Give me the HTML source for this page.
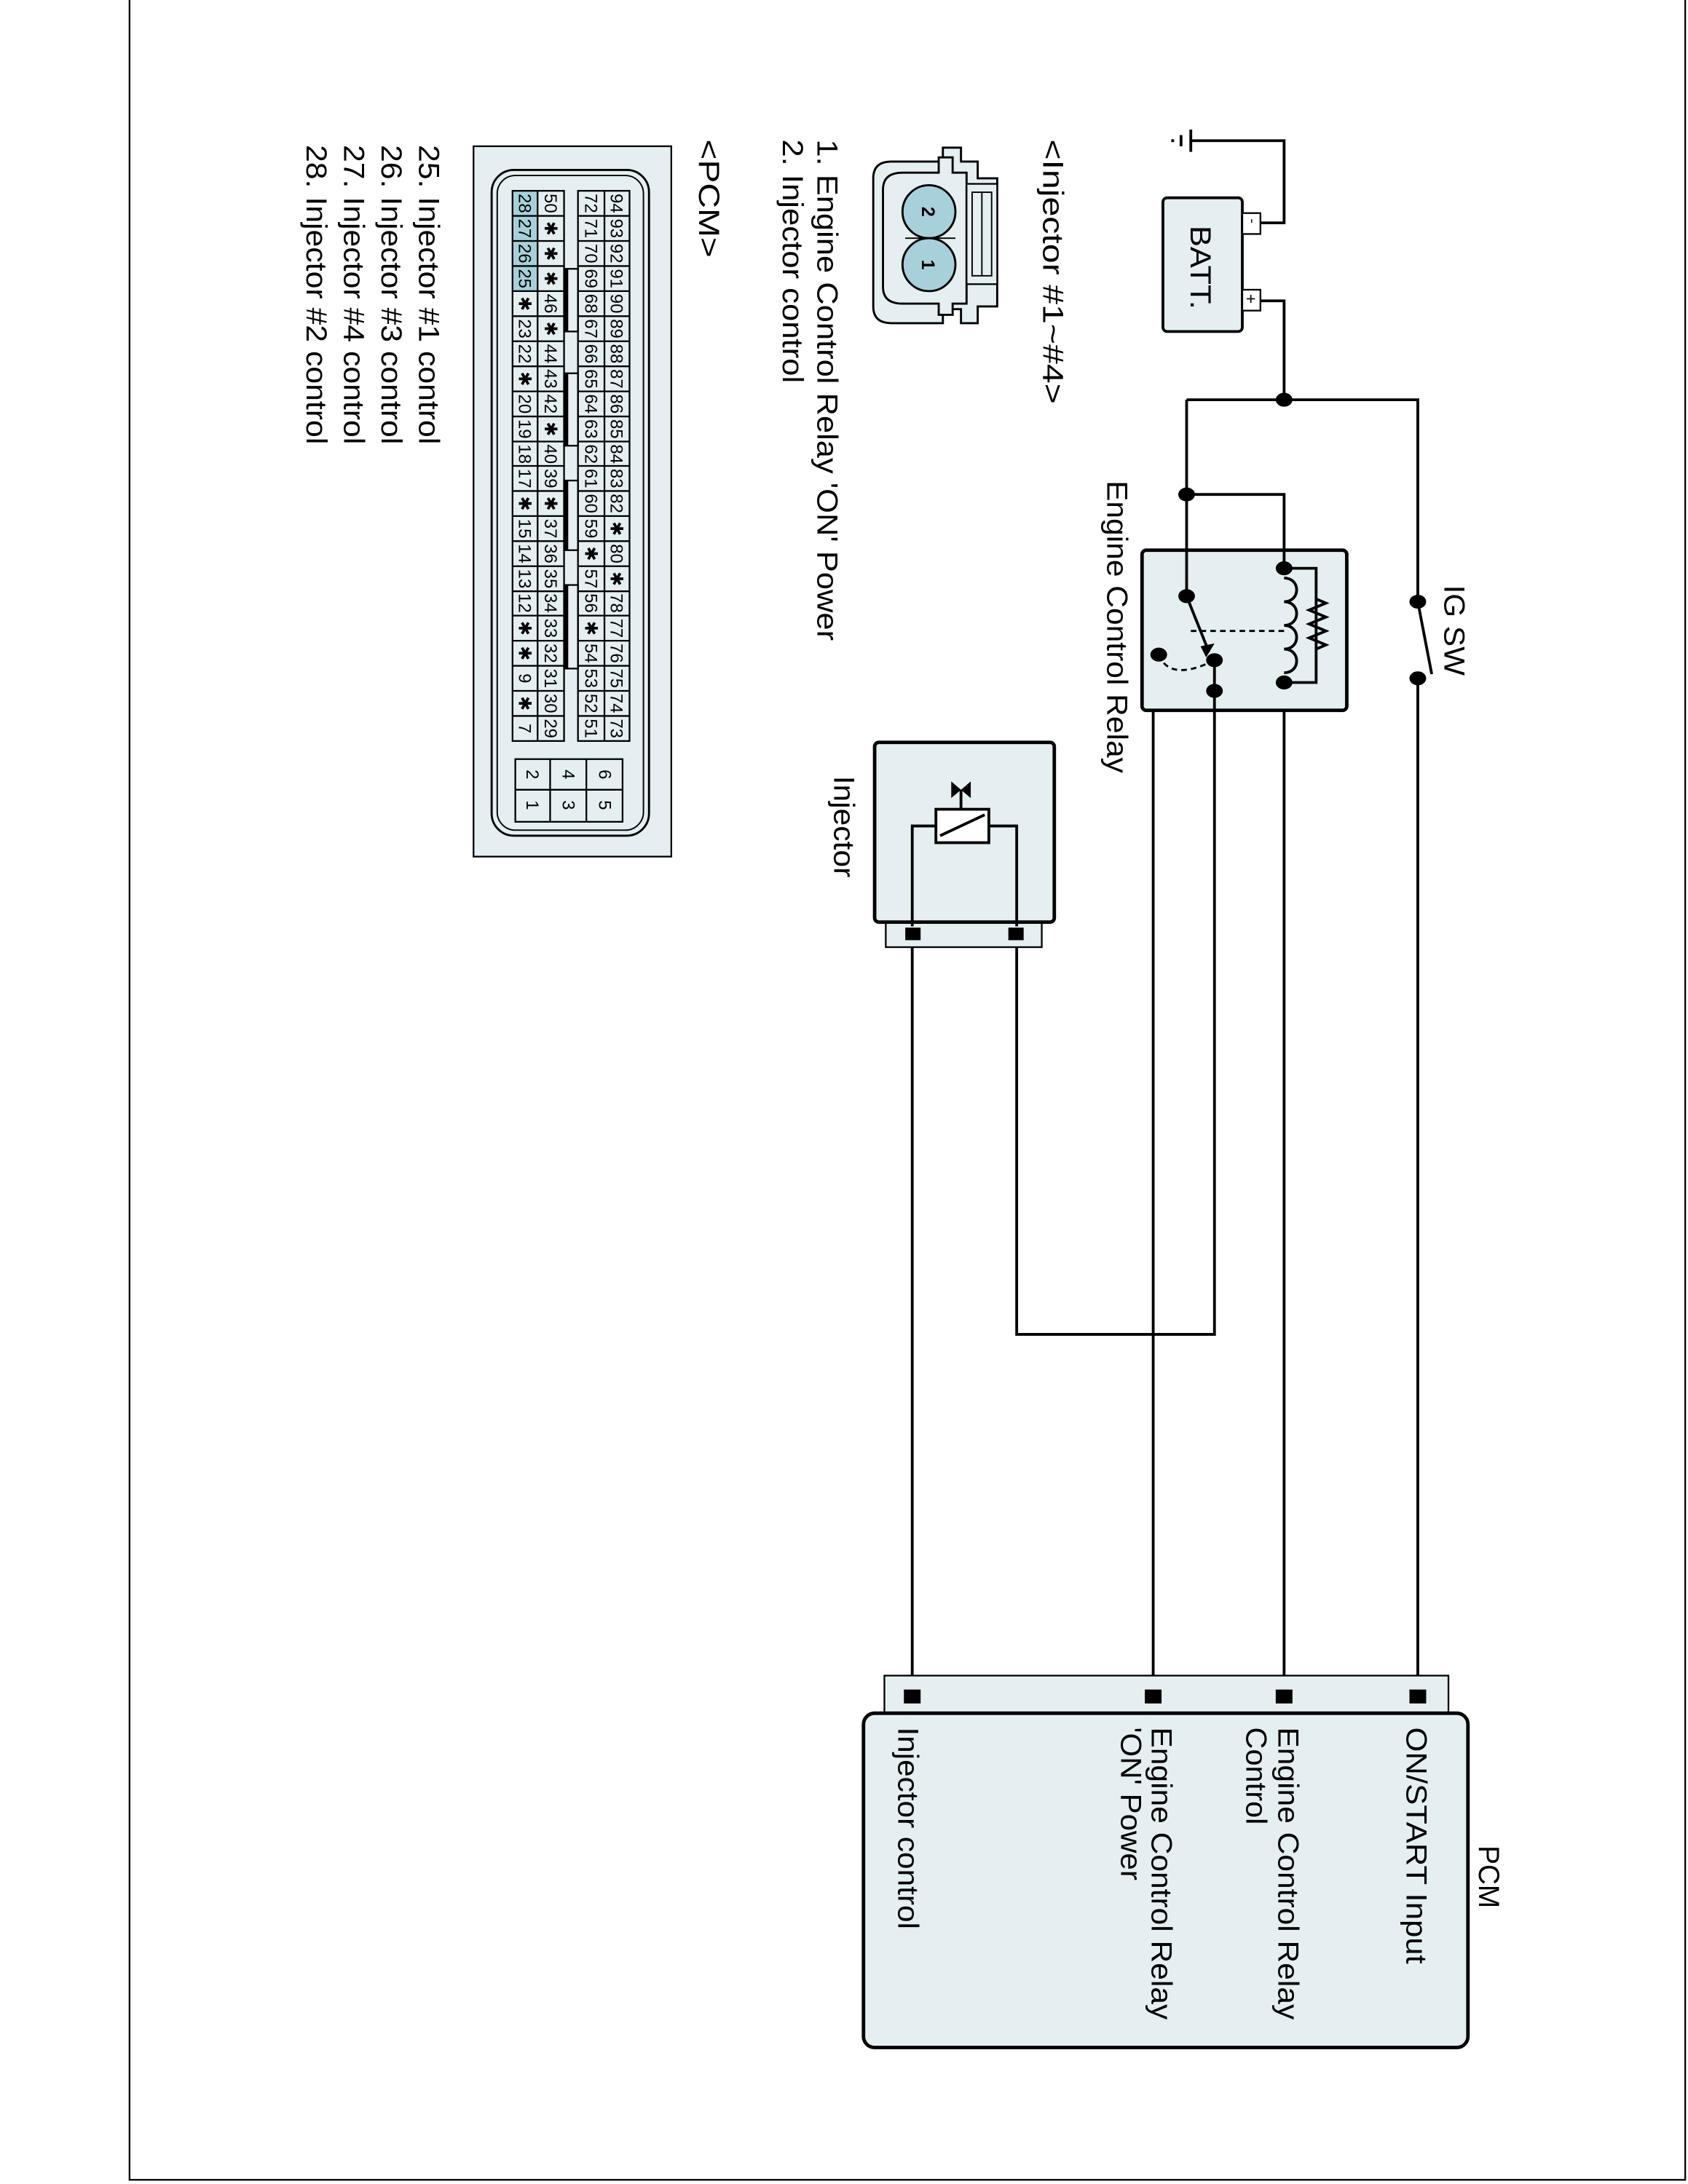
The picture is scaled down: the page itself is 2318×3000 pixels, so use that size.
<!DOCTYPE html>
<html><head><meta charset="utf-8"><style>
html,body{margin:0;padding:0;background:#fff}
svg{display:block}
text{font-family:"Liberation Sans",Arial,sans-serif;fill:#000}
.n{font-size:12.5px;text-anchor:middle}
.l{font-size:21px}
</style></head><body>
<svg width="2318" height="3000" viewBox="0 0 1212 1568" preserveAspectRatio="none" xmlns="http://www.w3.org/2000/svg">
<rect x="93" y="-2" width="1117" height="1567" fill="none" stroke="#000" stroke-width="1.2"/>

<g stroke="#000" stroke-width="2" fill="none">
<path d="M855 101 H922 V160 H905"/>
<path d="M905 216 H922 V287"/>
<path d="M852 287 H1018 V432"/>
<path d="M1018 487 V1218"/>
<path d="M1018 432 L1028 484"/>
<path d="M852 287 V428"/>
<path d="M852 355 H922 V1218"/>
<path d="M872 474 V958 H730 V672"/>
<path d="M872 495 H828 V1218"/>
<path d="M655 672 V1218"/>
</g>
<g stroke="#000" stroke-width="2"><line x1="855" y1="93" x2="855" y2="109"/><line x1="848" y1="97" x2="848" y2="105"/><line x1="842" y1="100" x2="842" y2="102"/></g>

<rect x="835" y="142" width="57" height="96" rx="3" fill="#e5eef0" stroke="#000" stroke-width="2"/>
<rect x="892" y="153" width="13" height="15" fill="#fff" stroke="#000" stroke-width="1.2"/>
<rect x="892" y="208" width="13" height="15" fill="#fff" stroke="#000" stroke-width="1.2"/>
<text class="l" transform="translate(855,162) rotate(90)" textLength="60" lengthAdjust="spacingAndGlyphs">BATT.</text>
<text transform="translate(896,157) rotate(90)" style="font-size:10px">-</text>
<text transform="translate(894,211) rotate(90)" style="font-size:12px">+</text>

<text class="l" transform="translate(1037,420) rotate(90)" textLength="65" lengthAdjust="spacingAndGlyphs">IG SW</text>

<rect x="820" y="395" width="147" height="115" rx="3" fill="#e5eef0" stroke="#000" stroke-width="2.5"/>
<g stroke="#000" stroke-width="2" fill="none">
<path d="M852 395 V428"/>
<path d="M922 395 V408"/>
<path d="M922 408 H945 V490 H922"/>
<path d="M945 430 L952 433 L940 438 L952 443 L940 448 L952 453 L940 458 L952 463 L945 466"/>
<path d="M922 415 c12 0 12 17 0 17 c12 0 12 17 0 17 c12 0 12 17 0 17 c12 0 12 17 0 17"/>
<path d="M872 474 V510"/>
<path d="M855 453 H922" stroke-dasharray="4 3" stroke-width="1.5"/>
<path d="M832 470 Q840 490 872 474" stroke-dasharray="4 3" stroke-width="1.5"/>
<path d="M852 428 L868 468" />
</g>
<polygon points="866,472 872,462 862,464" fill="#000"/>
<text class="l" transform="translate(795,345) rotate(90)" textLength="210" lengthAdjust="spacingAndGlyphs">Engine Control Relay</text>

<g fill="#000">
<ellipse cx="922" cy="287" rx="6" ry="5"/>
<ellipse cx="852" cy="355" rx="6" ry="5"/>
<ellipse cx="1018" cy="432" rx="6" ry="5"/>
<ellipse cx="1018" cy="487" rx="6" ry="5"/>
<ellipse cx="922" cy="408" rx="6" ry="5"/>
<ellipse cx="922" cy="490" rx="6" ry="5"/>
<ellipse cx="852" cy="428" rx="6" ry="5"/>
<ellipse cx="872" cy="474" rx="6" ry="5"/>
<ellipse cx="872" cy="496" rx="6" ry="5"/>
<ellipse cx="832" cy="470" rx="6" ry="5"/>
</g>

<rect x="636" y="660" width="112" height="20" fill="#e5eef0" stroke="#000" stroke-width="1.2"/>
<rect x="628" y="533" width="129" height="129" rx="3" fill="#e5eef0" stroke="#000" stroke-width="2.5"/>
<g stroke="#000" stroke-width="2" fill="none">
<path d="M655 665 V593 H672"/>
<path d="M730 665 V593 H710"/>
<rect x="672" y="581" width="38" height="24" fill="#fff"/>
<line x1="675" y1="600" x2="707" y2="585"/>
<line x1="690" y1="581" x2="690" y2="567"/>
</g>
<polygon points="683,561 683,573 690,567" fill="#000"/>
<polygon points="697,561 697,573 690,567" fill="#000"/>
<rect x="650" y="666" width="11" height="9" fill="#000"/>
<rect x="724" y="666" width="11" height="9" fill="#000"/>
<text class="l" transform="translate(599,557) rotate(90)" textLength="73" lengthAdjust="spacingAndGlyphs">Injector</text>

<rect x="635" y="1203" width="405" height="30" fill="#e5eef0" stroke="#000" stroke-width="1.2"/>
<rect x="620" y="1230" width="434" height="240" rx="8" fill="#e5eef0" stroke="#000" stroke-width="2.5"/>
<g fill="#000">
<rect x="649" y="1213" width="12" height="10"/>
<rect x="822" y="1213" width="12" height="10"/>
<rect x="916" y="1213" width="12" height="10"/>
<rect x="1012" y="1213" width="12" height="10"/>
</g>
<g class="l">
<text transform="translate(1062,1325) rotate(90)" textLength="45" lengthAdjust="spacingAndGlyphs">PCM</text>
<text transform="translate(1010,1240) rotate(90)" textLength="170" lengthAdjust="spacingAndGlyphs">ON/START Input</text>
<text transform="translate(918,1240) rotate(90)" textLength="210" lengthAdjust="spacingAndGlyphs">Engine Control Relay</text>
<text transform="translate(895,1240) rotate(90)" textLength="70" lengthAdjust="spacingAndGlyphs">Control</text>
<text transform="translate(827,1240) rotate(90)" textLength="210" lengthAdjust="spacingAndGlyphs">Engine Control Relay</text>
<text transform="translate(805,1240) rotate(90)" textLength="110" lengthAdjust="spacingAndGlyphs">'ON' Power</text>
<text transform="translate(645,1240) rotate(90)" textLength="145" lengthAdjust="spacingAndGlyphs">Injector control</text>
</g>

<g class="l">
<text transform="translate(749,100) rotate(90)" textLength="190" lengthAdjust="spacingAndGlyphs">&lt;Injector #1~#4&gt;</text>
<text transform="translate(587,100) rotate(90)" textLength="360" lengthAdjust="spacingAndGlyphs">1. Engine Control Relay 'ON' Power</text>
<text transform="translate(562,100) rotate(90)" textLength="175" lengthAdjust="spacingAndGlyphs">2. Injector control</text>
<text transform="translate(502,100) rotate(90)" textLength="85" lengthAdjust="spacingAndGlyphs">&lt;PCM&gt;</text>
<text transform="translate(301,104) rotate(90)" textLength="215" lengthAdjust="spacingAndGlyphs">25. Injector #1 control</text>
<text transform="translate(274,104) rotate(90)" textLength="215" lengthAdjust="spacingAndGlyphs">26. Injector #3 control</text>
<text transform="translate(247,104) rotate(90)" textLength="215" lengthAdjust="spacingAndGlyphs">27. Injector #4 control</text>
<text transform="translate(220,104) rotate(90)" textLength="215" lengthAdjust="spacingAndGlyphs">28. Injector #2 control</text>
</g>

<path d="M640 116 H677 V106 H690 V116 H702 V128 H716 V220 H702 V232 H690 V222 H677 V232 H640 Q627 232 627 220 V128 Q627 116 640 116 Z" fill="#e5eef0" stroke="#000" stroke-width="1.5"/>
<path d="M648 124 H674 V113 H684 V124 H694 V218 H684 V226 H674 V218 H648 Q634 218 634 206 V136 Q634 124 648 124 Z" fill="#e5eef0" stroke="#000" stroke-width="1.5"/>
<rect x="694" y="132" width="22" height="72" fill="#e5eef0" stroke="#000" stroke-width="1.2"/>
<rect x="698" y="138" width="14" height="60" fill="none" stroke="#000" stroke-width="1"/>
<line x1="705" y1="138" x2="705" y2="198" stroke="#000" stroke-width="1"/>
<line x1="650" y1="171" x2="686" y2="171" stroke="#000" stroke-width="1"/>
<circle cx="667" cy="152" r="19" fill="#a8d0da" stroke="#000" stroke-width="1.5"/>
<circle cx="667" cy="190" r="19" fill="#a8d0da" stroke="#000" stroke-width="1.5"/>
<text class="n" transform="translate(662,152) rotate(90)" style="font-size:13px;font-weight:bold">2</text>
<text class="n" transform="translate(662,190) rotate(90)" style="font-size:13px;font-weight:bold">1</text>

<rect x="340" y="105" width="142" height="510" fill="#e5eef0" stroke="#000" stroke-width="1.2"/>
<rect x="353" y="122" width="113" height="478" rx="16" fill="none" stroke="#000" stroke-width="1.5"/>
<rect x="357" y="126" width="105" height="470" rx="13" fill="none" stroke="#000" stroke-width="1"/>
<rect x="368" y="137" width="18" height="72" fill="#a8d0da"/>
<g stroke="#000" stroke-width="1.2" fill="none">
<rect x="368" y="137" width="37" height="395"/>
<rect x="415" y="137" width="37" height="395"/>
<line x1="386" y1="137" x2="386" y2="532"/>
<line x1="434" y1="137" x2="434" y2="532"/>
<path d="M368 155 H405 M368 173 H405 M368 191 H405 M368 209 H405 M368 227 H405 M368 245 H405 M368 263 H405 M368 281 H405 M368 299 H405 M368 317 H405 M368 334.5 H405 M368 352.5 H405 M368 370.5 H405 M368 388.5 H405 M368 406.5 H405 M368 424.5 H405 M368 442 H405 M368 460 H405 M368 478 H405 M368 496 H405 M368 514 H405"/>
<path d="M415 155 H452 M415 173 H452 M415 191 H452 M415 209 H452 M415 227 H452 M415 245 H452 M415 263 H452 M415 281 H452 M415 299 H452 M415 317 H452 M415 334.5 H452 M415 352.5 H452 M415 370.5 H452 M415 388.5 H452 M415 406.5 H452 M415 424.5 H452 M415 442 H452 M415 460 H452 M415 478 H452 M415 496 H452 M415 514 H452"/>
<rect x="370" y="545" width="77" height="45"/>
<line x1="370" y1="567" x2="447" y2="567"/>
<line x1="395" y1="545" x2="395" y2="590"/>
<line x1="421" y1="545" x2="421" y2="590"/>
<rect x="405" y="193" width="10" height="45"/>
<rect x="405" y="268" width="10" height="52"/>
<rect x="405" y="345" width="10" height="50"/>
<rect x="405" y="420" width="10" height="60"/>
</g>
<g fill="#000"><rect x="405" y="193" width="3" height="45"/><rect x="405" y="268" width="3" height="52"/><rect x="405" y="345" width="3" height="50"/><rect x="405" y="420" width="3" height="60"/></g>
<g class="n">
<text transform="translate(372.5,146) rotate(90)">28</text><text transform="translate(372.5,164) rotate(90)">27</text><text transform="translate(372.5,182) rotate(90)">26</text><text transform="translate(372.5,200) rotate(90)">25</text><text transform="translate(372.5,218) rotate(90)">✱</text><text transform="translate(372.5,236) rotate(90)">23</text><text transform="translate(372.5,254) rotate(90)">22</text><text transform="translate(372.5,272) rotate(90)">✱</text><text transform="translate(372.5,290) rotate(90)">20</text><text transform="translate(372.5,308) rotate(90)">19</text><text transform="translate(372.5,326) rotate(90)">18</text><text transform="translate(372.5,343.5) rotate(90)">17</text><text transform="translate(372.5,361.5) rotate(90)">✱</text><text transform="translate(372.5,379.5) rotate(90)">15</text><text transform="translate(372.5,397.5) rotate(90)">14</text><text transform="translate(372.5,415.5) rotate(90)">13</text><text transform="translate(372.5,433) rotate(90)">12</text><text transform="translate(372.5,451) rotate(90)">✱</text><text transform="translate(372.5,469) rotate(90)">✱</text><text transform="translate(372.5,487) rotate(90)">9</text><text transform="translate(372.5,505) rotate(90)">✱</text><text transform="translate(372.5,523) rotate(90)">7</text>
<text transform="translate(391,146) rotate(90)">50</text><text transform="translate(391,164) rotate(90)">✱</text><text transform="translate(391,182) rotate(90)">✱</text><text transform="translate(391,200) rotate(90)">✱</text><text transform="translate(391,218) rotate(90)">46</text><text transform="translate(391,236) rotate(90)">✱</text><text transform="translate(391,254) rotate(90)">44</text><text transform="translate(391,272) rotate(90)">43</text><text transform="translate(391,290) rotate(90)">42</text><text transform="translate(391,308) rotate(90)">✱</text><text transform="translate(391,326) rotate(90)">40</text><text transform="translate(391,343.5) rotate(90)">39</text><text transform="translate(391,361.5) rotate(90)">✱</text><text transform="translate(391,379.5) rotate(90)">37</text><text transform="translate(391,397.5) rotate(90)">36</text><text transform="translate(391,415.5) rotate(90)">35</text><text transform="translate(391,433) rotate(90)">34</text><text transform="translate(391,451) rotate(90)">33</text><text transform="translate(391,469) rotate(90)">32</text><text transform="translate(391,487) rotate(90)">31</text><text transform="translate(391,505) rotate(90)">30</text><text transform="translate(391,523) rotate(90)">29</text>
<text transform="translate(420,146) rotate(90)">72</text><text transform="translate(420,164) rotate(90)">71</text><text transform="translate(420,182) rotate(90)">70</text><text transform="translate(420,200) rotate(90)">69</text><text transform="translate(420,218) rotate(90)">68</text><text transform="translate(420,236) rotate(90)">67</text><text transform="translate(420,254) rotate(90)">66</text><text transform="translate(420,272) rotate(90)">65</text><text transform="translate(420,290) rotate(90)">64</text><text transform="translate(420,308) rotate(90)">63</text><text transform="translate(420,326) rotate(90)">62</text><text transform="translate(420,343.5) rotate(90)">61</text><text transform="translate(420,361.5) rotate(90)">60</text><text transform="translate(420,379.5) rotate(90)">59</text><text transform="translate(420,397.5) rotate(90)">✱</text><text transform="translate(420,415.5) rotate(90)">57</text><text transform="translate(420,433) rotate(90)">56</text><text transform="translate(420,451) rotate(90)">✱</text><text transform="translate(420,469) rotate(90)">54</text><text transform="translate(420,487) rotate(90)">53</text><text transform="translate(420,505) rotate(90)">52</text><text transform="translate(420,523) rotate(90)">51</text>
<text transform="translate(438.5,146) rotate(90)">94</text><text transform="translate(438.5,164) rotate(90)">93</text><text transform="translate(438.5,182) rotate(90)">92</text><text transform="translate(438.5,200) rotate(90)">91</text><text transform="translate(438.5,218) rotate(90)">90</text><text transform="translate(438.5,236) rotate(90)">89</text><text transform="translate(438.5,254) rotate(90)">88</text><text transform="translate(438.5,272) rotate(90)">87</text><text transform="translate(438.5,290) rotate(90)">86</text><text transform="translate(438.5,308) rotate(90)">85</text><text transform="translate(438.5,326) rotate(90)">84</text><text transform="translate(438.5,343.5) rotate(90)">83</text><text transform="translate(438.5,361.5) rotate(90)">82</text><text transform="translate(438.5,379.5) rotate(90)">✱</text><text transform="translate(438.5,397.5) rotate(90)">80</text><text transform="translate(438.5,415.5) rotate(90)">✱</text><text transform="translate(438.5,433) rotate(90)">78</text><text transform="translate(438.5,451) rotate(90)">77</text><text transform="translate(438.5,469) rotate(90)">76</text><text transform="translate(438.5,487) rotate(90)">75</text><text transform="translate(438.5,505) rotate(90)">74</text><text transform="translate(438.5,523) rotate(90)">73</text>
<text transform="translate(378,556) rotate(90)">2</text><text transform="translate(378,578) rotate(90)">1</text>
<text transform="translate(404,556) rotate(90)">4</text><text transform="translate(404,578) rotate(90)">3</text>
<text transform="translate(430,556) rotate(90)">6</text><text transform="translate(430,578) rotate(90)">5</text>
</g>
</svg>
</body></html>
